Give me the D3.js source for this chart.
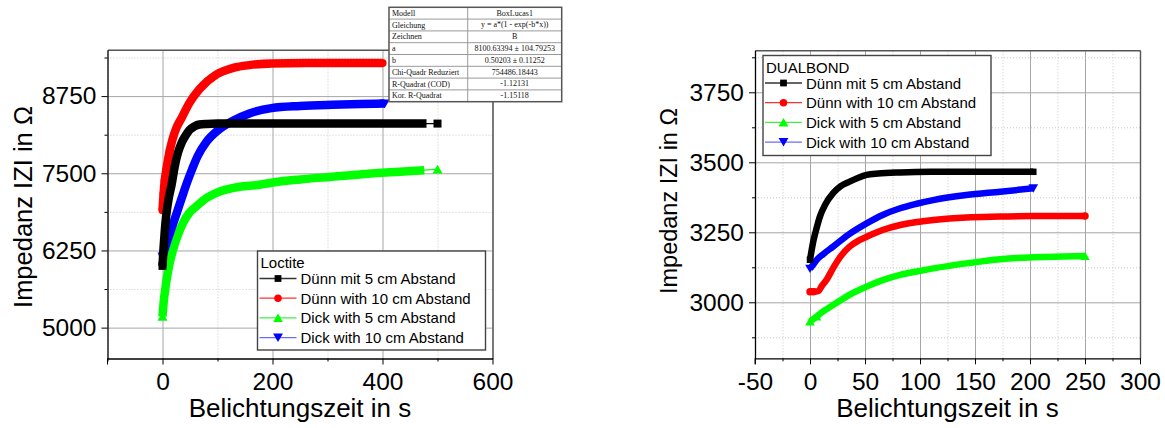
<!DOCTYPE html>
<html>
<head>
<meta charset="utf-8">
<script src="https://cdn.jsdelivr.net/npm/d3@7"></script>
<style>
  body { margin: 0; background: #fff; }
  svg { display: block; }
  svg text { font-family: "Liberation Sans", Arial, sans-serif; }
  svg .serif text { font-family: "Liberation Serif", "Times New Roman", serif; }
</style>
</head>
<body>
<svg id="chart" width="1165" height="428"></svg>
<script>
// ---------- Loctite measurements (time in s, impedance in Ohm) ----------
const loctiteDuennMit5_t  = [0, 1, 2, 4, 6.5, 11, 17, 22, 28, 35, 42, 49, 58, 67, 80, 100, 150, 250, 350, 480, 500];
const loctiteDuennMit5_v  = [6000, 6150, 6300, 6550, 6796, 7080, 7336, 7600, 7830, 8000, 8110, 8200, 8260, 8290, 8300, 8305, 8305, 8305, 8305, 8305, 8305];
const loctiteDuenn10_t    = [0, 1, 2, 4, 7, 10, 13, 17, 21, 25, 35, 49, 67, 98, 130, 158, 199, 260, 330, 400];
const loctiteDuenn10_v    = [6900, 7040, 7170, 7380, 7560, 7720, 7860, 8010, 8130, 8230, 8400, 8640, 8860, 9100, 9210, 9252, 9280, 9285, 9285, 9285];
const loctiteDick5_t      = [0, 2, 6.5, 12, 19, 28, 37, 48, 61, 80, 97, 140, 173, 198, 250, 309, 370, 431, 476, 500];
const loctiteDick5_v      = [5180, 5400, 5718, 6000, 6257, 6500, 6690, 6850, 6960, 7100, 7180, 7282, 7309, 7347, 7400, 7444, 7490, 7525, 7550, 7565];
const loctiteDick10_t     = [0, 5, 10, 15, 20, 26, 32, 38, 45, 54, 64, 80, 100, 130, 158, 198, 250, 309, 360, 404];
const loctiteDick10_v     = [6150, 6300, 6440, 6570, 6700, 6860, 7020, 7180, 7360, 7570, 7780, 8010, 8190, 8360, 8470, 8555, 8590, 8610, 8622, 8630];

// ---------- DUALBOND measurements ----------
const dualDuennMit5_t = [0, 1, 3, 6, 9, 14, 21, 28, 36, 44, 51.5, 62, 82, 110, 142, 170, 203];
const dualDuennMit5_v = [3152, 3175, 3218, 3265, 3306, 3350, 3390, 3415, 3431, 3445, 3455, 3460, 3464, 3466, 3466, 3466, 3466];
const dualDuenn10_t   = [0, 3, 7.5, 11, 15, 21, 28, 36, 44, 51.5, 66, 82, 97, 112, 142, 173, 203, 230, 250];
const dualDuenn10_v   = [3038, 3038, 3040, 3060, 3080, 3122, 3165, 3199, 3220, 3234, 3258, 3276, 3287, 3294, 3303, 3306, 3308, 3308, 3308];
const dualDick5_t     = [0, 6, 10, 21, 35, 51.5, 66, 82, 97, 112, 142, 173, 203, 230, 250];
const dualDick5_v     = [2931, 2949, 2962, 2990, 3025, 3056, 3079, 3098, 3110, 3121, 3139, 3154, 3161, 3164, 3165];
const dualDick10_t    = [0, 3, 6, 12, 21, 35, 51.5, 66, 82, 97, 112, 142, 173, 203];
const dualDick10_v    = [3120, 3135, 3151, 3172, 3199, 3242, 3282, 3312, 3336, 3352, 3365, 3383, 3395, 3407];

// ---------- Series names and axis ticks ----------
const seriesNames = ["Dünn mit 5 cm Abstand", "Dünn with 10 cm Abstand", "Dick with 5 cm Abstand", "Dick with 10 cm Abstand"];
const loctiteXTicks = [0, 200, 400, 600];
const loctiteXMinor = [-100, 100, 300, 500];
const loctiteYTicks = [5000, 6250, 7500, 8750];
const loctiteYMinor = [5625, 6875, 8125, 9375];
const dualXTicks = [-50, 0, 50, 100, 150, 200, 250, 300];
const dualXMinor = [-25, 25, 75, 125, 175, 225, 275];
const dualYTicks = [3000, 3250, 3500, 3750];
const dualYMinor = [2875, 3125, 3375, 3625, 3875];

// ---------- Fit report (BoxLucas1) ----------
const fitLabels = ["Modell", "Gleichung", "Zeichnen", "a", "b", "Chi-Quadr Reduziert", "R-Quadrat (COD)", "Kor. R-Quadrat"];
const fitValues = ["BoxLucas1", "y = a*(1 - exp(-b*x))", "B", "8100.63394 \u00b1 104.79253", "0.50203 \u00b1 0.11252", "754486.18443", "-1.12131", "-1.15118"];

const svg = d3.select("#chart");
const plainNumber = d => String(d);   // "-50", "8750" (no grouping, ASCII minus)

const styles = [
  { color: "#000000", symbol: d3.symbolSquare,   rot: 0,   legendLine: "#333" },
  { color: "#ff0000", symbol: d3.symbolCircle,   rot: 0,   legendLine: "#ff3030" },
  { color: "#00ff00", symbol: d3.symbolTriangle, rot: 0,   legendLine: "#40f040" },
  { color: "#0000ff", symbol: d3.symbolTriangle, rot: 180, legendLine: "#6a6aff" }
];

function zip(t, v) { return t.map((d, i) => ({ t: d, v: v[i], i })); }

function symbolSize(st, p) {
  if (st.symbol === d3.symbolTriangle) return p.triSize;
  if (st.symbol === d3.symbolCircle) return p.circSize;
  return p.sqSize;
}
function triShift(st) {
  return st.symbol === d3.symbolTriangle ? (st.rot ? -1.2 : 1.2) : 0;
}

function drawPanel(p) {
  const x = d3.scaleLinear().domain(p.xDomain).range(p.xRange);
  const y = d3.scaleLinear().domain(p.yDomain).range(p.yRange);
  const [xl, xr] = p.xRange;
  const [yb, yt] = p.yRange;
  const h = yb - yt, w = xr - xl;
  const g = svg.append("g");

  // grid: dotted minor, solid major
  const gridMinorX = g.append("g").attr("transform", `translate(0,${yb})`)
    .call(d3.axisBottom(x).tickValues(p.xMinor).tickSize(-h).tickFormat(""));
  const gridMinorY = g.append("g").attr("transform", `translate(${xl},0)`)
    .call(d3.axisLeft(y).tickValues(p.yMinor).tickSize(-w).tickFormat(""));
  [gridMinorX, gridMinorY].forEach(s => {
    s.select(".domain").remove();
    s.selectAll("line").attr("stroke", "#c6c6c6").attr("stroke-dasharray", "1,2");
  });
  const gridMajorX = g.append("g").attr("transform", `translate(0,${yb})`)
    .call(d3.axisBottom(x).tickValues(p.xTicks).tickSize(-h).tickFormat(""));
  const gridMajorY = g.append("g").attr("transform", `translate(${xl},0)`)
    .call(d3.axisLeft(y).tickValues(p.yTicks).tickSize(-w).tickFormat(""));
  [gridMajorX, gridMajorY].forEach(s => {
    s.select(".domain").remove();
    s.selectAll("line").attr("stroke", "#a6a6a6");
  });

  // top and right frame
  const top = g.append("g").attr("transform", `translate(0,${yt})`)
    .call(d3.axisTop(x).tickValues([]).tickSizeOuter(0));
  const right = g.append("g").attr("transform", `translate(${xr},0)`)
    .call(d3.axisRight(y).tickValues([]).tickSizeOuter(0));
  [top, right].forEach(s => s.select(".domain").attr("stroke", "#555").attr("stroke-width", 1.4));

  // data series: thin connecting line, dense marker band, visible end markers
  const order = [2, 3, 1, 0];
  order.forEach(i => {
    const s = p.series[i], st = styles[i];
    const pts = zip(s.t, s.v);
    const band = s.tail ? pts.slice(0, -1) : pts;
    const line = d3.line().x(d => x(d.t)).y(d => y(d.v)).curve(d3.curveMonotoneX);
    g.append("path").attr("d", line(pts)).attr("fill", "none")
      .attr("stroke", st.color).attr("stroke-width", 1.2);
    g.append("path").attr("d", line(band)).attr("fill", "none")
      .attr("stroke", st.color).attr("stroke-width", p.band)
      .attr("stroke-linejoin", "round");
    const lead = s.lead || 1;
    const marked = pts.filter(d => d.i < lead || d.i === pts.length - 1);
    g.append("g").selectAll("path").data(marked).join("path")
      .attr("d", d3.symbol(st.symbol, symbolSize(st, p)))
      .attr("transform", d => `translate(${x(d.t)},${y(d.v) + triShift(st)}) rotate(${st.rot})`)
      .attr("fill", st.color);
  });

  // axes (left and bottom) with major and minor ticks
  const ax = g.append("g").attr("transform", `translate(0,${yb})`)
    .call(d3.axisBottom(x).tickValues(p.xTicks).tickFormat(plainNumber).tickSize(6).tickSizeOuter(0).tickPadding(8));
  const axm = g.append("g").attr("transform", `translate(0,${yb})`)
    .call(d3.axisBottom(x).tickValues(p.xMinor).tickSize(3).tickFormat(""));
  axm.select(".domain").remove();
  const ay = g.append("g").attr("transform", `translate(${xl},0)`)
    .call(d3.axisLeft(y).tickValues(p.yTicks).tickFormat(plainNumber).tickSize(6).tickSizeOuter(0).tickPadding(5));
  const aym = g.append("g").attr("transform", `translate(${xl},0)`)
    .call(d3.axisLeft(y).tickValues(p.yMinor).tickSize(3).tickFormat(""));
  aym.select(".domain").remove();
  [ax, ay].forEach(s => {
    s.attr("font-family", null).attr("font-size", null);
    s.select(".domain").attr("stroke", "#000").attr("stroke-width", 1.3);
    s.selectAll("text").attr("font-size", 24.5).attr("fill", "#000");
  });
  g.append("line").attr("x1", xl).attr("x2", xl).attr("y1", yb).attr("y2", yb + 6).attr("stroke", "#000");

  // axis titles
  svg.append("text").attr("x", (xl + xr) / 2).attr("y", yb + 58.5)
    .attr("text-anchor", "middle").attr("font-size", 26).text("Belichtungszeit in s");
  svg.append("text").attr("transform", `translate(${p.yTitleX},${p.yTitleY}) rotate(-90)`)
    .attr("text-anchor", "middle").attr("font-size", p.yTitleSize).text("Impedanz IZI in \u03a9");

  // legend
  const L = p.legend;
  const lg = svg.append("g").attr("transform", `translate(${L.x},${L.y})`);
  lg.append("rect").attr("width", L.w).attr("height", L.h).attr("fill", "#fff")
    .attr("stroke", "#444").attr("stroke-width", 1.4);
  lg.append("text").attr("x", 3).attr("y", 17).attr("font-size", 15).text(p.title);
  seriesNames.forEach((name, i) => {
    const st = styles[i];
    const cy = 27.5 + i * 19.7;
    lg.append("line").attr("x1", 2).attr("x2", 39).attr("y1", cy).attr("y2", cy)
      .attr("stroke", st.legendLine).attr("stroke-width", 1.3);
    lg.append("path").attr("d", d3.symbol(st.symbol, st.symbol === d3.symbolTriangle ? 42 : (st.symbol === d3.symbolCircle ? 44 : 46))())
      .attr("transform", `translate(20.5,${cy + triShift(st)}) rotate(${st.rot})`)
      .attr("fill", st.color);
    lg.append("text").attr("x", 43).attr("y", cy + 5.5).attr("font-size", 15).text(name);
  });
}

drawPanel({
  xDomain: [-100, 600], xRange: [107.5, 492.5],
  yDomain: [4500, 9500], yRange: [358.5, 49.8],
  xTicks: loctiteXTicks, xMinor: loctiteXMinor, yTicks: loctiteYTicks, yMinor: loctiteYMinor,
  band: 8.5, sqSize: 64, circSize: 52, triSize: 44,
  yTitleX: 32, yTitleY: 207, yTitleSize: 25.5,
  title: "Loctite",
  legend: { x: 257.5, y: 251, w: 228, h: 99 },
  series: [
    { t: loctiteDuennMit5_t, v: loctiteDuennMit5_v, tail: true },
    { t: loctiteDuenn10_t, v: loctiteDuenn10_v, lead: 7 },
    { t: loctiteDick5_t, v: loctiteDick5_v, tail: true },
    { t: loctiteDick10_t, v: loctiteDick10_v }
  ]
});

drawPanel({
  xDomain: [-50, 300], xRange: [755, 1140],
  yDomain: [2800, 3900], yRange: [358.3, 50.3],
  xTicks: dualXTicks, xMinor: dualXMinor, yTicks: dualYTicks, yMinor: dualYMinor,
  band: 6.5, sqSize: 42, circSize: 44, triSize: 40,
  yTitleX: 676.5, yTitleY: 201, yTitleSize: 23.5,
  title: "DUALBOND",
  legend: { x: 763, y: 55.5, w: 228, h: 100 },
  series: [
    { t: dualDuennMit5_t, v: dualDuennMit5_v },
    { t: dualDuenn10_t, v: dualDuenn10_v, lead: 2 },
    { t: dualDick5_t, v: dualDick5_v, lead: 2 },
    { t: dualDick10_t, v: dualDick10_v }
  ]
});

// fit report table over the top-right corner of the Loctite panel
(function drawFitTable() {
  const x0 = 389, y0 = 7.3, colW = [78.7, 94], rowH = 11.8;
  const tg = svg.append("g").attr("class", "serif").attr("font-size", 8);
  tg.append("rect").attr("x", x0).attr("y", y0).attr("width", colW[0] + colW[1]).attr("height", rowH * fitLabels.length)
    .attr("fill", "#fff").attr("stroke", "none");
  const rows = tg.selectAll("g.row").data(fitLabels.map((l, i) => ({ l, v: fitValues[i], i }))).join("g")
    .attr("transform", d => `translate(${x0},${y0 + d.i * rowH})`);
  rows.filter(d => d.i > 0).append("line").attr("x1", 0).attr("x2", colW[0] + colW[1]).attr("y1", 0).attr("y2", 0)
    .attr("stroke", "#9a9a9a").attr("stroke-width", 1);
  rows.append("text").attr("x", 3).attr("y", 8.6).attr("fill", "#111").text(d => d.l);
  rows.append("text").attr("x", colW[0] + colW[1] / 2).attr("y", 8.3).attr("text-anchor", "middle").attr("fill", "#111").text(d => d.v);
  tg.append("line").attr("x1", x0 + colW[0]).attr("x2", x0 + colW[0]).attr("y1", y0).attr("y2", y0 + rowH * fitLabels.length)
    .attr("stroke", "#9a9a9a");
  tg.append("rect").attr("x", x0).attr("y", y0).attr("width", colW[0] + colW[1]).attr("height", rowH * fitLabels.length)
    .attr("fill", "none").attr("stroke", "#555").attr("stroke-width", 1.5);
})();
</script>
</body>
</html>
